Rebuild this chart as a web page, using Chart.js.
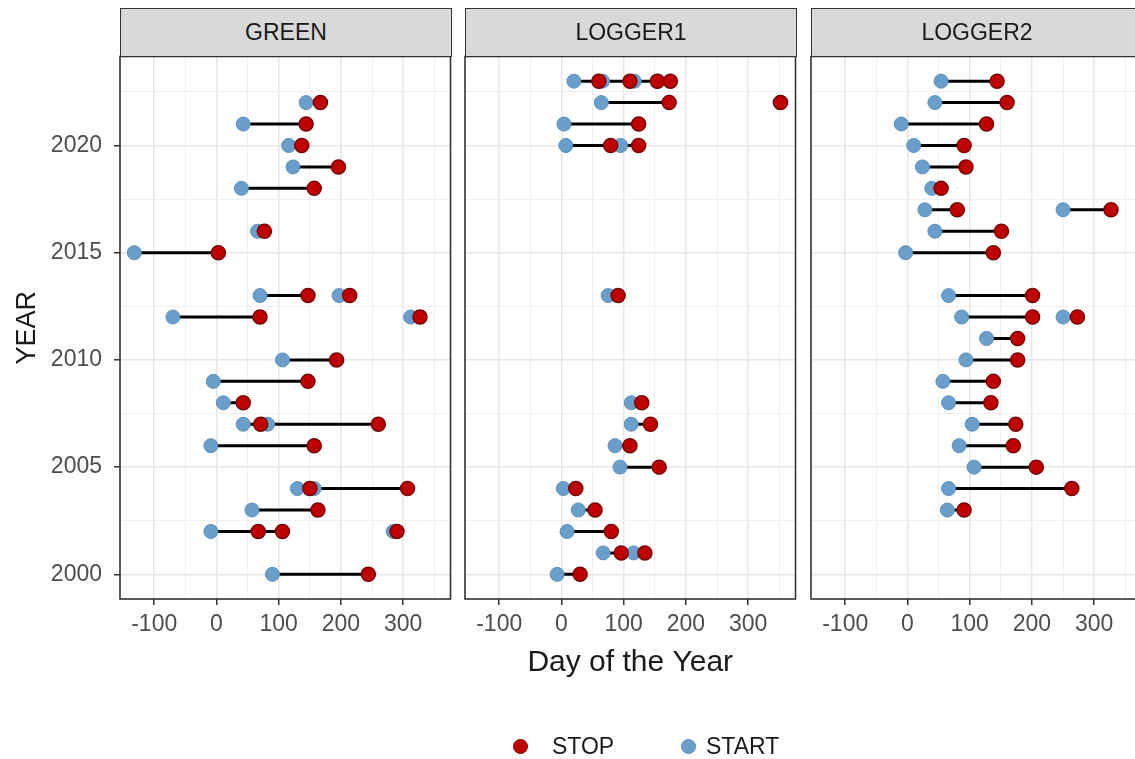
<!DOCTYPE html>
<html>
<head>
<meta charset="utf-8">
<script src="https://cdn.jsdelivr.net/npm/chart.js@4.4.1/dist/chart.umd.min.js"></script>
<style>
  body { margin: 0; background: #fff; width: 1135px; height: 759px; overflow: hidden; position: relative;
         font-family: "Liberation Sans", Arial, sans-serif; }
  canvas { position: absolute; }
  .strip { position: absolute; top: 8px; height: 49px; width: 332px; box-sizing: border-box;
           background: #d9d9d9; border: 1.5px solid #333; color: #1a1a1a; font-size: 23px;
           display: flex; align-items: center; justify-content: center; }
  .legend { position: absolute; top: 731px; left: 0; width: 1135px; height: 30px; font-size: 23px; color: #1a1a1a; }
  .legend span { position: absolute; top: 0; line-height: 30px; }
  .dot { width: 13px; height: 13px; border-radius: 50%; top: 8px !important; }
</style>
</head>
<body>
<canvas id="green" width="459" height="661" style="left:0px;top:48px"></canvas>
<canvas id="logger1" width="349" height="661" style="left:455px;top:48px"></canvas>
<canvas id="logger2" width="349" height="661" style="left:801px;top:48px"></canvas>
<div class="strip" style="left:120px">GREEN</div>
<div class="strip" style="left:465px">LOGGER1</div>
<div class="strip" style="left:811px">LOGGER2</div>
<div class="legend">
  <span class="dot" style="left:513px;background:#c00000;border:1px solid #7a0000"></span>
  <span style="left:552px">STOP</span>
  <span class="dot" style="left:681px;background:#6a9fcb;border:1px solid #5a8fbb"></span>
  <span style="left:706px">START</span>
</div>
<script>
// one entry per start/stop pair (a year can have several)
const greenYear  = [2022, 2021, 2020, 2019, 2018, 2016, 2015, 2013, 2013, 2012, 2012, 2010, 2009, 2008, 2007, 2007, 2006, 2004, 2004, 2003, 2002, 2002, 2002, 2000];
const greenStart = [144, 43, 116, 123, 40, 66, -132, 70, 197, -70, 312, 106, -5, 11, 43, 82, -9, 130, 157, 57, -9, 68, 284, 90];
const greenStop  = [167, 144, 137, 196, 157, 77, 3, 147, 214, 70, 327, 193, 147, 43, 71, 260, 157, 150, 307, 163, 67, 106, 290, 244];

const logger1Year  = [2023, 2023, 2023, 2023, 2022, 2022, 2021, 2020, 2020, 2013, 2008, 2007, 2006, 2005, 2004, 2003, 2002, 2001, 2001, 2000];
const logger1Start = [20, 66, 117, 155, 64, 351, 4, 7, 95, 75, 112, 112, 86, 94, 3, 27, 9, 67, 116, -7];
const logger1Stop  = [60, 110, 154, 175, 173, 352, 124, 79, 124, 91, 129, 143, 110, 157, 23, 54, 80, 96, 134, 30];

const logger2Year  = [2023, 2022, 2021, 2020, 2019, 2018, 2017, 2017, 2016, 2015, 2013, 2012, 2012, 2011, 2010, 2009, 2008, 2007, 2006, 2005, 2004, 2003];
const logger2Start = [54, 44, -10, 10, 24, 39, 28, 250, 44, -3, 66, 87, 250, 127, 94, 57, 66, 104, 83, 107, 66, 64];
const logger2Stop  = [144, 160, 127, 91, 94, 54, 80, 327, 151, 138, 201, 201, 273, 177, 177, 138, 134, 174, 170, 207, 264, 91];

const xTicks = [-100, -50, 0, 50, 100, 150, 200, 250, 300, 350];
const yTicks = [2000, 2002.5, 2005, 2007.5, 2010, 2012.5, 2015, 2017.5, 2020, 2022.5];

const FONT = '"Liberation Sans", Arial, sans-serif';

const panelBorder = {
  id: 'panelBorder',
  afterDatasetsDraw(chart) {
    const a = chart.chartArea, ctx = chart.ctx;
    ctx.save();
    ctx.strokeStyle = '#333';
    ctx.lineWidth = 1.6;
    ctx.strokeRect(a.left, a.top, a.right - a.left, a.bottom - a.top);
    ctx.restore();
  }
};

// keep every panel's plot area at the same place, whatever the labels are
function noPadding(s) {
  s.paddingTop = 0;
  s.paddingBottom = 0;
  s.paddingLeft = 0;
  s.paddingRight = 0;
}

function makePanel(id, years, starts, stops, first, showTitle) {
  const segments = years.map((y, i) => ({
    data: [{ x: starts[i], y: y }, { x: stops[i], y: y }],
    showLine: true,
    borderColor: '#000',
    borderWidth: 3,
    pointRadius: 0,
    order: 3
  }));

  new Chart(document.getElementById(id), {
    type: 'scatter',
    data: {
      datasets: [
        ...segments,
        {
          label: 'START',
          data: years.map((y, i) => ({ x: starts[i], y: y })),
          backgroundColor: '#6a9fcb',
          borderColor: '#5b90bd',
          borderWidth: 1,
          pointRadius: 7,
          order: 2
        },
        {
          label: 'STOP',
          data: years.map((y, i) => ({ x: stops[i], y: y })),
          backgroundColor: '#c00000',
          borderColor: '#7a0000',
          borderWidth: 1.5,
          pointRadius: 7,
          order: 1
        }
      ]
    },
    options: {
      responsive: false,
      animation: false,
      devicePixelRatio: 1,
      layout: { padding: { top: 2, right: 2, left: 0, bottom: 0 } },
      plugins: { legend: { display: false }, tooltip: { enabled: false } },
      scales: {
        x: {
          type: 'linear',
          min: -155,
          max: 376,
          afterBuildTicks: s => { s.ticks = xTicks.map(v => ({ value: v })); },
          afterFit: s => { s.height = 110; noPadding(s); },
          border: { display: false },
          grid: {
            color: c => (c.tick && c.tick.value % 100 === 0) ? '#e6e6e6' : '#efefef',
            lineWidth: c => (c.tick && c.tick.value % 100 === 0) ? 1.5 : 1,
            tickColor: c => (c.tick && c.tick.value % 100 === 0) ? '#333' : 'rgba(0,0,0,0)',
            tickLength: 6,
            tickWidth: 1.5
          },
          ticks: {
            autoSkip: false,
            maxRotation: 0,
            padding: 6,
            color: '#4d4d4d',
            font: { family: FONT, size: 23 },
            callback: v => (v % 100 === 0 ? v : '')
          },
          title: {
            display: showTitle,
            text: 'Day of the Year',
            color: '#1a1a1a',
            font: { family: FONT, size: 30 },
            padding: { top: 0, bottom: 28 }
          }
        },
        y: {
          type: 'linear',
          min: 1998.85,
          max: 2024.15,
          afterBuildTicks: s => { s.ticks = yTicks.map(v => ({ value: v })); },
          afterFit: s => { s.width = first ? 120 : 10; noPadding(s); },
          border: { display: false },
          grid: {
            color: c => (c.tick && c.tick.value % 5 === 0) ? '#e6e6e6' : '#efefef',
            lineWidth: c => (c.tick && c.tick.value % 5 === 0) ? 1.5 : 1,
            tickColor: c => (c.tick && c.tick.value % 5 === 0) ? '#333' : 'rgba(0,0,0,0)',
            tickLength: 6,
            tickWidth: 1.5,
            drawTicks: first
          },
          ticks: {
            display: first,
            autoSkip: false,
            padding: 12,
            color: '#4d4d4d',
            font: { family: FONT, size: 23 },
            callback: v => (v % 5 === 0 ? v : '')
          },
          title: {
            display: first,
            text: 'YEAR',
            color: '#1a1a1a',
            font: { family: FONT, size: 27 },
            padding: { top: 11, bottom: 0 }
          }
        }
      }
    },
    plugins: [panelBorder]
  });
}

makePanel('green', greenYear, greenStart, greenStop, true, false);
makePanel('logger1', logger1Year, logger1Start, logger1Stop, false, true);
makePanel('logger2', logger2Year, logger2Start, logger2Stop, false, false);
</script>
</body>
</html>
